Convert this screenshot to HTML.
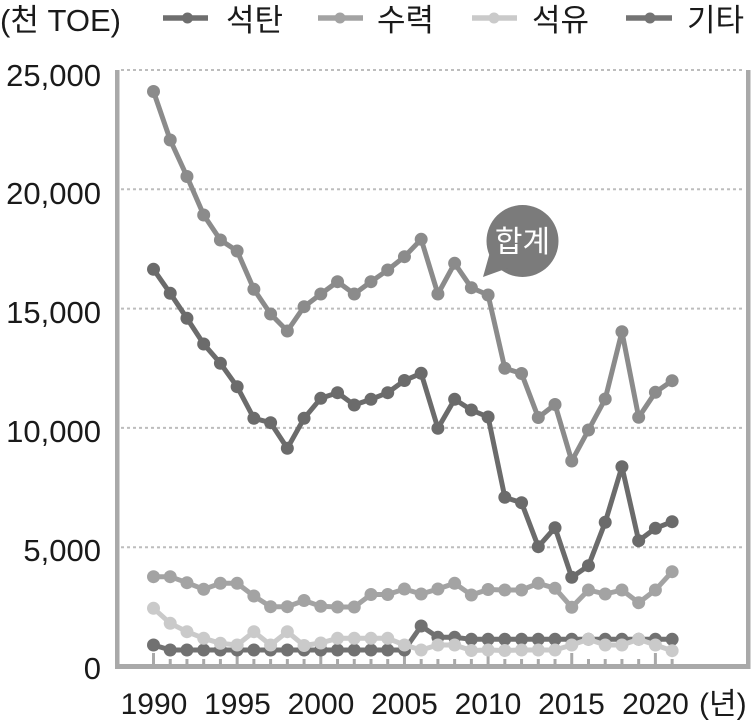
<!DOCTYPE html>
<html>
<head>
<meta charset="utf-8">
<style>
  html,body{margin:0;padding:0;background:#ffffff;}
  svg{display:block;}
  text{font-family:"Liberation Sans","Noto Sans CJK KR",sans-serif;fill:#1a1a1a;}
</style>
</head>
<body>
<svg width="751" height="724" viewBox="0 0 751 724" xmlns="http://www.w3.org/2000/svg">
  <defs>
    <marker id="mT" viewBox="-8 -8 16 16" markerWidth="16" markerHeight="16" refX="0" refY="0" markerUnits="userSpaceOnUse"><circle r="6.5" fill="#8b8b8b"/></marker>
    <marker id="mC" viewBox="-8 -8 16 16" markerWidth="16" markerHeight="16" refX="0" refY="0" markerUnits="userSpaceOnUse"><circle r="6.5" fill="#6b6b6b"/></marker>
    <marker id="mH" viewBox="-8 -8 16 16" markerWidth="16" markerHeight="16" refX="0" refY="0" markerUnits="userSpaceOnUse"><circle r="6.5" fill="#a3a3a3"/></marker>
    <marker id="mO" viewBox="-8 -8 16 16" markerWidth="16" markerHeight="16" refX="0" refY="0" markerUnits="userSpaceOnUse"><circle r="6.5" fill="#cacaca"/></marker>
    <marker id="mX" viewBox="-8 -8 16 16" markerWidth="16" markerHeight="16" refX="0" refY="0" markerUnits="userSpaceOnUse"><circle r="6.5" fill="#717171"/></marker>
  </defs>

  <!-- Legend -->
  <text x="0" y="31" font-size="31">(천 TOE)</text>
  <line x1="163" y1="18" x2="208" y2="18" stroke="#6e6e6e" stroke-width="5.5"/>
  <circle cx="187.5" cy="18" r="5.5" fill="#6e6e6e"/>
  <text x="226" y="31" font-size="31">석탄</text>
  <line x1="318" y1="18" x2="363" y2="18" stroke="#a3a3a3" stroke-width="5.5"/>
  <circle cx="340" cy="18" r="5.5" fill="#a3a3a3"/>
  <text x="377" y="31" font-size="31">수력</text>
  <line x1="472" y1="18" x2="517" y2="18" stroke="#cacaca" stroke-width="5.5"/>
  <circle cx="494" cy="18" r="5.5" fill="#cacaca"/>
  <text x="532" y="31" font-size="31">석유</text>
  <line x1="626" y1="18" x2="672" y2="18" stroke="#747474" stroke-width="5.5"/>
  <circle cx="650" cy="18" r="5.5" fill="#747474"/>
  <text x="687" y="31" font-size="31">기타</text>

  <!-- Gridlines -->
  <g stroke="#bdbdbd" stroke-width="2" stroke-dasharray="3 3">
    <line x1="121" y1="70" x2="745" y2="70"/>
    <line x1="121" y1="189.3" x2="745" y2="189.3"/>
    <line x1="121" y1="308.6" x2="745" y2="308.6"/>
    <line x1="121" y1="427.9" x2="745" y2="427.9"/>
    <line x1="121" y1="547.2" x2="745" y2="547.2"/>
  </g>

  <!-- Y labels -->
  <g font-size="31" text-anchor="end">
    <text x="101" y="86">25,000</text>
    <text x="101" y="204">20,000</text>
    <text x="101" y="323">15,000</text>
    <text x="101" y="442">10,000</text>
    <text x="101" y="561">5,000</text>
    <text x="101" y="679">0</text>
  </g>

  <!-- Axes frame -->
  <rect x="115" y="70" width="4.5" height="599" fill="#a9a9a9"/>
  <rect x="746" y="70" width="4.5" height="599" fill="#a9a9a9"/>
  <rect x="115" y="664" width="635.5" height="5" fill="#a9a9a9"/>

  <!-- Ticks -->
  <g stroke="#a9a9a9" stroke-width="3">
    <line x1="153.5" y1="653" x2="153.5" y2="665"/>
    <line x1="170.23" y1="659" x2="170.23" y2="665"/>
    <line x1="186.96" y1="659" x2="186.96" y2="665"/>
    <line x1="203.69" y1="659" x2="203.69" y2="665"/>
    <line x1="220.42" y1="659" x2="220.42" y2="665"/>
    <line x1="237.15" y1="653" x2="237.15" y2="665"/>
    <line x1="253.88" y1="659" x2="253.88" y2="665"/>
    <line x1="270.61" y1="659" x2="270.61" y2="665"/>
    <line x1="287.34" y1="659" x2="287.34" y2="665"/>
    <line x1="304.07" y1="659" x2="304.07" y2="665"/>
    <line x1="320.8" y1="653" x2="320.8" y2="665"/>
    <line x1="337.53" y1="659" x2="337.53" y2="665"/>
    <line x1="354.26" y1="659" x2="354.26" y2="665"/>
    <line x1="370.99" y1="659" x2="370.99" y2="665"/>
    <line x1="387.72" y1="659" x2="387.72" y2="665"/>
    <line x1="404.45" y1="653" x2="404.45" y2="665"/>
    <line x1="421.18" y1="659" x2="421.18" y2="665"/>
    <line x1="437.91" y1="659" x2="437.91" y2="665"/>
    <line x1="454.64" y1="659" x2="454.64" y2="665"/>
    <line x1="471.37" y1="659" x2="471.37" y2="665"/>
    <line x1="488.1" y1="653" x2="488.1" y2="665"/>
    <line x1="504.83" y1="659" x2="504.83" y2="665"/>
    <line x1="521.56" y1="659" x2="521.56" y2="665"/>
    <line x1="538.29" y1="659" x2="538.29" y2="665"/>
    <line x1="555.02" y1="659" x2="555.02" y2="665"/>
    <line x1="571.75" y1="653" x2="571.75" y2="665"/>
    <line x1="588.48" y1="659" x2="588.48" y2="665"/>
    <line x1="605.21" y1="659" x2="605.21" y2="665"/>
    <line x1="621.94" y1="659" x2="621.94" y2="665"/>
    <line x1="638.67" y1="659" x2="638.67" y2="665"/>
    <line x1="655.4" y1="653" x2="655.4" y2="665"/>
    <line x1="672.13" y1="659" x2="672.13" y2="665"/>
  </g>

  <!-- X labels -->
  <g font-size="30" text-anchor="middle">
    <text x="154" y="714">1990</text>
    <text x="237.5" y="714">1995</text>
    <text x="321" y="714">2000</text>
    <text x="404.5" y="714">2005</text>
    <text x="488" y="714">2010</text>
    <text x="571.5" y="714">2015</text>
    <text x="655.5" y="714">2020</text>
  </g>
  <text x="699" y="714" font-size="30">(년)</text>

  <!-- 기타 (other) -->
  <polyline fill="none" stroke="#717171" stroke-width="5" stroke-linejoin="round"
    marker-start="url(#mX)" marker-mid="url(#mX)" marker-end="url(#mX)"
    points="153.5,645 170.23,650 186.96,650 203.69,650 220.42,650 237.15,650 253.88,650 270.61,650 287.34,650 304.07,650 320.8,650 337.53,650 354.26,650 370.99,650 387.72,650 404.45,650 421.18,626 437.91,637.3 454.64,637.3 471.37,639.3 488.1,639.3 504.83,639.3 521.56,639.3 538.29,639.3 555.02,639.3 571.75,639.3 588.48,639.3 605.21,639.3 621.94,639.3 638.67,639.3 655.4,639.3 672.13,639.3"/>

  <!-- 석유 (oil) -->
  <polyline fill="none" stroke="#cacaca" stroke-width="5" stroke-linejoin="round"
    marker-start="url(#mO)" marker-mid="url(#mO)" marker-end="url(#mO)"
    points="153.5,608.3 170.23,623.3 186.96,631.7 203.69,638.3 220.42,643.3 237.15,645 253.88,631.7 270.61,645 287.34,631.7 304.07,645.5 320.8,643 337.53,638.3 354.26,638.3 370.99,638.3 387.72,638.3 404.45,645 421.18,650 437.91,645 454.64,645 471.37,650.5 488.1,650 504.83,650.5 521.56,650 538.29,650 555.02,650 571.75,645 588.48,639.3 605.21,645 621.94,645 638.67,639.3 655.4,645 672.13,650.7"/>

  <!-- 수력 (hydro) -->
  <polyline fill="none" stroke="#a3a3a3" stroke-width="5" stroke-linejoin="round"
    marker-start="url(#mH)" marker-mid="url(#mH)" marker-end="url(#mH)"
    points="153.5,576.7 170.23,576.7 186.96,582.7 203.69,589.3 220.42,583.3 237.15,583.3 253.88,596 270.61,606.7 287.34,606.7 304.07,600.5 320.8,606.3 337.53,607 354.26,607 370.99,594.5 387.72,594.5 404.45,589 421.18,594 437.91,589 454.64,583.3 471.37,595 488.1,589.5 504.83,590 521.56,590 538.29,583.3 555.02,588.3 571.75,607.3 588.48,590 605.21,594 621.94,590 638.67,602.7 655.4,590 672.13,571.7"/>

  <!-- 석탄 (coal) -->
  <polyline fill="none" stroke="#6b6b6b" stroke-width="5" stroke-linejoin="round"
    marker-start="url(#mC)" marker-mid="url(#mC)" marker-end="url(#mC)"
    points="153.5,269.3 170.23,293.3 186.96,318.3 203.69,344 220.42,363.3 237.15,386.7 253.88,418.3 270.61,422.7 287.34,448.3 304.07,418.3 320.8,398.3 337.53,392.7 354.26,405 370.99,399.3 387.72,392.7 404.45,380.5 421.18,373.3 437.91,428.3 454.64,399.3 471.37,410 488.1,417 504.83,497.3 521.56,502.7 538.29,546.7 555.02,527.7 571.75,577.3 588.48,565.7 605.21,522.3 621.94,466.7 638.67,540.7 655.4,528.3 672.13,521.7"/>

  <!-- 합계 (total) -->
  <polyline fill="none" stroke="#8b8b8b" stroke-width="5" stroke-linejoin="round"
    marker-start="url(#mT)" marker-mid="url(#mT)" marker-end="url(#mT)"
    points="153.5,91.5 170.23,140 186.96,176.5 203.69,215 220.42,240 237.15,251 253.88,289.3 270.61,314 287.34,331 304.07,306.7 320.8,294 337.53,281.7 354.26,294 370.99,281.7 387.72,270 404.45,256.7 421.18,239.3 437.91,294 454.64,263.3 471.37,287.7 488.1,295 504.83,368.3 521.56,373.5 538.29,417.5 555.02,404.5 571.75,461 588.48,430 605.21,399 621.94,331.7 638.67,417.3 655.4,392.3 672.13,380.7"/>

  <!-- Bubble -->
  <circle cx="522.5" cy="241" r="36" fill="#7b7b7b"/>
  <polygon points="490,252 508,268 483,277" fill="#7b7b7b"/>
  <text x="522.5" y="252" font-size="30" text-anchor="middle" style="fill:#ffffff">합계</text>
</svg>
</body>
</html>
